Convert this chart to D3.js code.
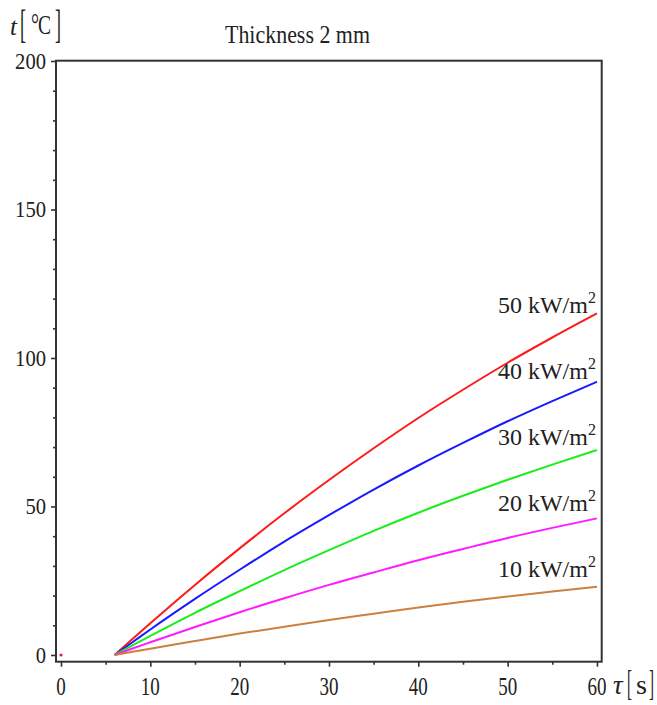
<!DOCTYPE html>
<html>
<head>
<meta charset="utf-8">
<script src="https://cdn.jsdelivr.net/npm/d3@7"></script>
<style>
  html, body { margin: 0; padding: 0; background: #fff; }
  svg { display: block; }
  text { font-family: "Liberation Serif", "Times New Roman", serif; fill: #222; }
</style>
</head>
<body>
<svg id="chart" width="657" height="705"></svg>
<script>
// Time after start of heating, s
const tau = [6, 8, 10, 15, 20, 25, 30, 35, 40, 45, 50, 55, 60];
// Surface temperature rise, °C, for each incident heat flux
const q50 = [0, 5.4, 10.7, 23.6, 35.9, 47.7, 58.9, 69.6, 79.8, 89.3, 98.4, 106.9, 115];
const q40 = [0, 4.3, 8.6, 18.9, 28.7, 38.2, 47.1, 55.7, 63.8, 71.4, 78.7, 85.5, 92];
const q30 = [0, 3.2, 6.4, 14.2, 21.5, 28.6, 35.3, 41.8, 47.9, 53.6, 59.0, 64.1, 69];
const q20 = [0, 2.2, 4.3, 9.4, 14.4, 19.1, 23.6, 27.8, 31.9, 35.7, 39.4, 42.8, 46];
const q10 = [0, 1.1, 2.1, 4.7, 7.2, 9.5, 11.8, 13.9, 16.0, 17.9, 19.7, 21.4, 23];
const fluxLabels = ["50", "40", "30", "20", "10"];
const seriesColors = ["#ff1a1a", "#1a1aff", "#1aee1a", "#ff1aff", "#cc8040"];
const xTicks = [0, 10, 20, 30, 40, 50, 60];
const xMinor = [5, 15, 25, 35, 45, 55];
const yTicks = [0, 50, 100, 150, 200];
const yMinor = [10, 20, 30, 40, 60, 70, 80, 90, 110, 120, 130, 140, 160, 170, 180, 190];

const series = [q50, q40, q30, q20, q10];

const svg = d3.select("#chart");
const frame = { left: 56, right: 601.7, top: 60.7, bottom: 661.7 };

const x = d3.scaleLinear().domain([-0.56, 60.53]).range([frame.left, frame.right]);
const y = d3.scaleLinear().domain([-2.26, 200.1]).range([frame.bottom, frame.top]);

// text helper: optional fixed advance width for the narrow serif glyphs
function label(g, px, py, str, size, len, anchor, italic) {
  const t = g.append("text")
    .attr("x", px).attr("y", py)
    .attr("font-size", size)
    .attr("text-anchor", anchor || "start")
    .text(str);
  if (len) t.attr("textLength", len).attr("lengthAdjust", "spacingAndGlyphs");
  if (italic) t.attr("font-style", "italic");
  return t;
}

// curves
const line = d3.line()
  .x((d, i) => x(tau[i]))
  .y(d => y(d))
  .curve(d3.curveMonotoneX);

const curves = svg.append("g");
series.forEach((s, k) => {
  curves.append("path")
    .attr("d", line(s))
    .attr("fill", "none")
    .attr("stroke", seriesColors[k])
    .attr("stroke-width", 2);
});

// small marker at the origin
svg.append("circle")
  .attr("cx", x(0)).attr("cy", y(0)).attr("r", 1.6)
  .attr("fill", "#e0203a");

// frame
svg.append("rect")
  .attr("x", frame.left).attr("y", frame.top)
  .attr("width", frame.right - frame.left)
  .attr("height", frame.bottom - frame.top)
  .attr("fill", "none")
  .attr("stroke", "#333")
  .attr("stroke-width", 2);

// axes
const axisColor = "#333";
const gx = svg.append("g").attr("transform", `translate(0,${frame.bottom})`);
gx.call(d3.axisBottom(x).tickValues(xTicks).tickSize(5).tickFormat(""));
gx.append("g").call(d3.axisBottom(x).tickValues(xMinor).tickSize(3).tickFormat(""));
const gy = svg.append("g").attr("transform", `translate(${frame.left},0)`);
gy.call(d3.axisLeft(y).tickValues(yTicks).tickSize(5).tickFormat(""));
gy.append("g").call(d3.axisLeft(y).tickValues(yMinor).tickSize(3).tickFormat(""));
svg.selectAll(".domain").remove();
svg.selectAll(".tick line").attr("stroke", axisColor).attr("stroke-width", 1.6);

// tick labels
const tickLabels = svg.append("g");
xTicks.forEach(v => {
  const s = String(v);
  label(tickLabels, x(v), 695, s, 26, 9.5 * s.length, "middle");
});
yTicks.forEach(v => {
  const s = String(v);
  label(tickLabels, 46, y(v) + 8, s, 23, 10.3 * s.length, "end");
});

// title
label(svg, 225, 43, "Thickness 2 mm", 25, 145, "start");

// y axis name: t [°C]
const yName = svg.append("g");
label(yName, 10, 35, "t", 25, null, "start", true);
label(yName, 20, 38, "[", 40, 6, "start");
label(yName, 31, 34, "°", 30, 8, "start");
label(yName, 38, 34, "C", 27, 13, "start");
label(yName, 55, 38, "]", 40, 6, "start");

// x axis name: τ [s]
const xName = svg.append("g");
label(xName, 613, 694, "τ", 27, null, "start", true);
label(xName, 627, 695, "[", 36, 5, "start");
label(xName, 636, 694, "s", 27, 11, "start");
label(xName, 649, 695, "]", 36, 5, "start");

// flux labels at the right ends of the curves
const firstLabelY = y(d3.max(series, s => s[s.length - 1]));
fluxLabels.forEach((f, k) => {
  const t = svg.append("text")
    .attr("x", x(60) - 1)
    .attr("y", firstLabelY + k * 66)
    .attr("font-size", 24)
    .attr("text-anchor", "end");
  t.append("tspan").text(f + " kW/m");
  t.append("tspan").attr("dy", -10).attr("font-size", 16).text("2");
});
</script>
</body>
</html>
